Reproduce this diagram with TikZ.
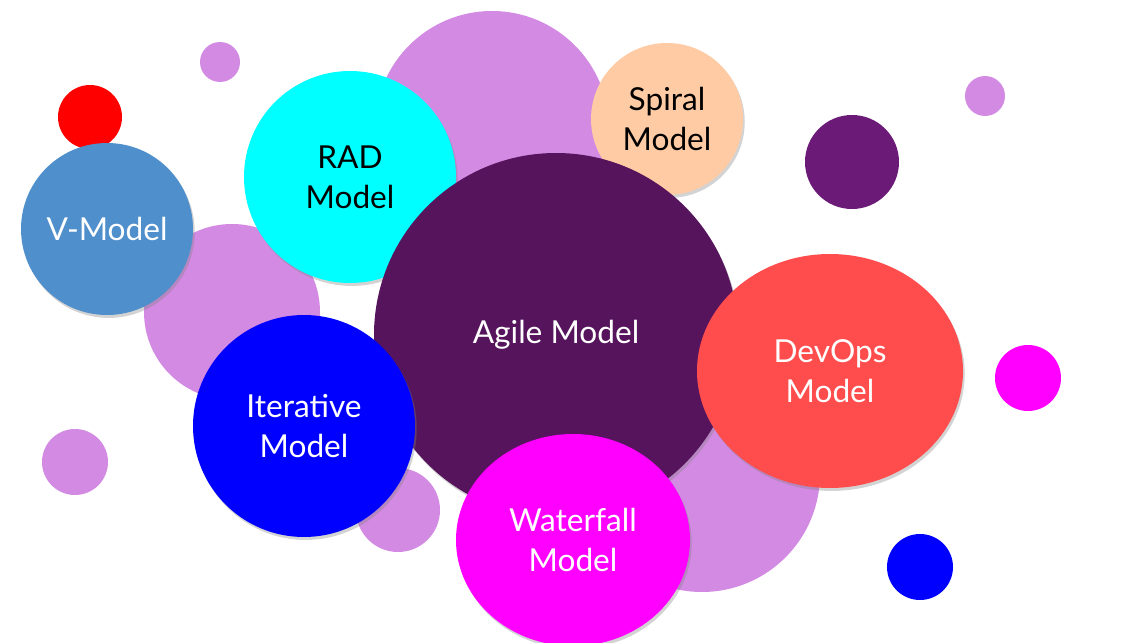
\documentclass[tikz,border=0pt]{standalone}
\usepackage{fontspec}
\setmainfont{Lato}
\usetikzlibrary{shadows,shapes.geometric}
\definecolor{lilac}{HTML}{D38AE3}
\definecolor{vblue}{HTML}{4F8FCC}
\definecolor{peach}{HTML}{FFCBA4}
\definecolor{agile}{HTML}{55145C}
\definecolor{dpurp}{HTML}{6B1A78}
\definecolor{devops}{HTML}{FF4D4D}
\definecolor{cyn}{HTML}{00FFFF}
\definecolor{mag}{HTML}{FF00FF}
\definecolor{blu}{HTML}{0000FF}
\definecolor{rd}{HTML}{FF0000}
\begin{document}
\begin{tikzpicture}[x=0.03cm,y=-0.03cm,
  blob/.style={circle,draw=none,inner sep=0pt},
  main/.style={draw=none,inner sep=0pt,align=center,font=\fontsize{27}{34}\selectfont,
    drop shadow={shadow xshift=1.5pt,shadow yshift=-2.5pt,opacity=0.35}},
  r/.style={minimum size=#1*0.06cm}]
\path[use as bounding box] (0,0) rectangle (1135,643);
% background blobs
\node[blob,fill=lilac,r=20] (b1) at (220,62) {};
\node[blob,fill=rd,r=32] (b2) at (90,117) {};
\node[blob,fill=lilac,r=117] (b3) at (492,128) {};
\node[blob,fill=lilac,r=88] (b4) at (232,312) {};
\node[blob,fill=dpurp,r=47] (b5) at (852,162) {};
\node[blob,fill=lilac,r=20] (b6) at (985,96) {};
\node[blob,fill=mag,r=33] (b7) at (1028,378) {};
\node[blob,fill=lilac,r=33] (b8) at (75,462) {};
\node[blob,fill=lilac,r=42] (b9) at (398,510) {};
\node[blob,fill=lilac,r=118] (b10) at (702,474) {};
\node[blob,fill=blu,r=33] (b11) at (920,567) {};
% main circles
\node[main,circle,fill=vblue,text=white,r=86] (v) at (107,229) {V-Model};
\node[main,circle,fill=peach,text=black,r=76] (sp) at (667,119) {Spiral\\Model};
\node[main,circle,fill=cyn,text=black,r=106] (rad) at (350,177) {RAD\\Model};
\node[main,circle,fill=agile,text=white,r=182] (ag) at (556,335) {Agile Model};
\node[main,ellipse,fill=devops,text=white,minimum width=266*0.03cm,minimum height=234*0.03cm] (dev) at (830,371) {DevOps\\Model};
\node[main,circle,fill=blu,text=white,r=111] (it) at (304,426) {Iterative\\Model};
\node[main,ellipse,fill=mag,text=white,minimum width=234*0.03cm,minimum height=212*0.03cm] (wf) at (573,540) {Waterfall\\Model};
\end{tikzpicture}
\end{document}
